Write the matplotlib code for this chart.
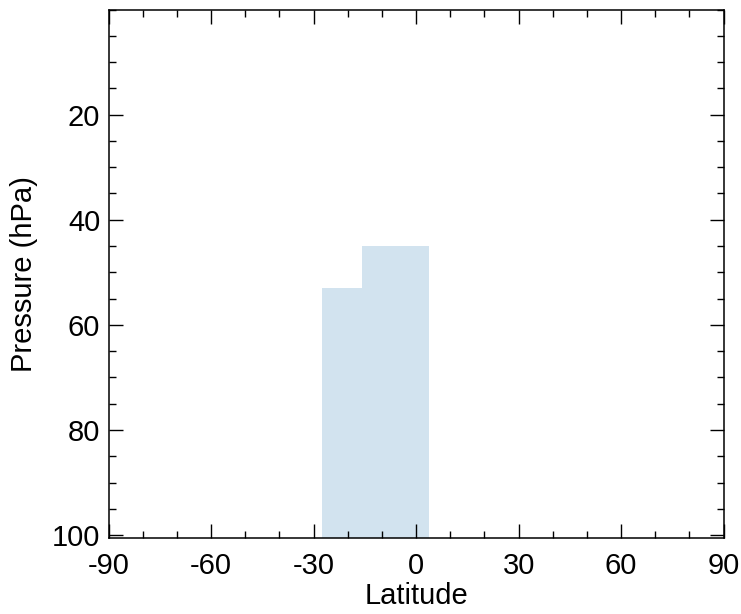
import matplotlib.pyplot as plt
from matplotlib.ticker import MultipleLocator

plt.rcParams['font.family'] = ['Liberation Sans', 'DejaVu Sans']
plt.rcParams['axes.unicode_minus'] = False

# latitude box edges and the pressure level at the top of each box
lat_edges = [-27.5, -15.7, 3.9]
top_pressure = [53, 45]
x_ticks = [-90, -60, -30, 0, 30, 60, 90]
y_ticks = [20, 40, 60, 80, 100]

fig = plt.figure(figsize=(7.41, 6.14), dpi=100)
ax = fig.add_axes([0.1467, 0.1233, 0.8297, 0.8612])

p_bottom = 100.6
for i in range(len(top_pressure)):
    left = lat_edges[i]
    width = lat_edges[i + 1] - lat_edges[i]
    ax.bar(left, p_bottom - top_pressure[i], bottom=top_pressure[i],
           width=width, align='edge', color='#d2e3ef', linewidth=0)

ax.set_xlim(-90, 90)
ax.set_ylim(p_bottom, 0)
ax.set_xticks(x_ticks)
ax.set_yticks(y_ticks)
ax.xaxis.set_minor_locator(MultipleLocator(10))
ax.yaxis.set_minor_locator(MultipleLocator(5))
ax.tick_params(which='both', direction='in', top=True, right=True,
               labelsize=21, width=1.0, color='black')
ax.tick_params(which='major', length=10)
ax.tick_params(axis='x', which='major', pad=10)
ax.tick_params(axis='y', which='major', pad=6)
ax.tick_params(which='minor', length=5)
for s in ax.spines.values():
    s.set_linewidth(1.1)

ax.set_xlabel('Latitude', fontsize=21, labelpad=1)
ax.set_ylabel('Pressure (hPa)', fontsize=21, labelpad=10)

fig.savefig('out.png', dpi=100)
